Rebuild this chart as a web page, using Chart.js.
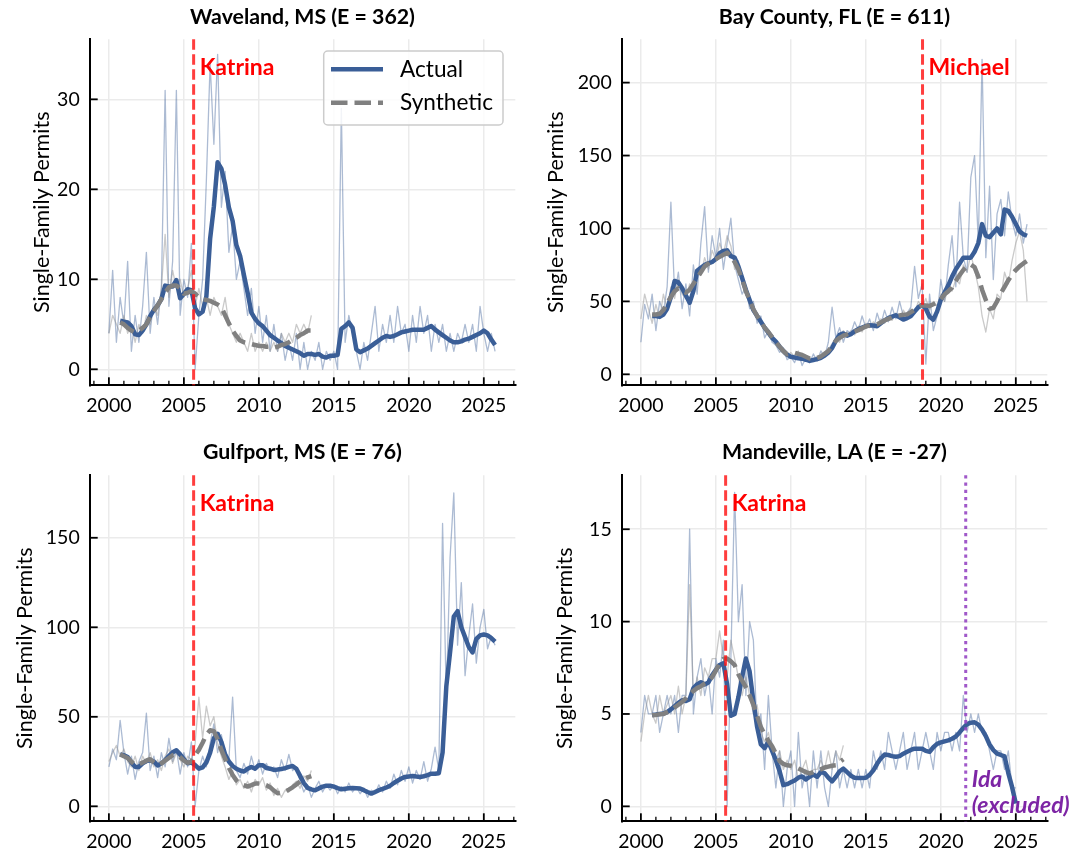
<!DOCTYPE html>
<html>
<head>
<meta charset="utf-8">
<script src="https://cdn.jsdelivr.net/npm/chart.js@4.4.1/dist/chart.umd.min.js"></script>
<style>
  html, body { margin: 0; padding: 0; background: #fff; }
  #wrap { position: relative; width: 1080px; height: 855px; }
  #wrap canvas { position: absolute; }
</style>
</head>
<body>
<div id="wrap">
  <canvas id="c0"></canvas>
  <canvas id="c1"></canvas>
  <canvas id="c2"></canvas>
  <canvas id="c3"></canvas>
</div>
<script>
// ---- data (quarterly readings) ----
const rawStart = 2000.0;      // raw series start
const smoothStart = 2000.75;  // smoothed series start
const step = 0.25;

const titles = ["Waveland, MS (E = 362)", "Bay County, FL (E = 611)", "Gulfport, MS (E = 76)", "Mandeville, LA (E = -27)"];
const eventNames = ["Katrina", "Michael", "Katrina", "Katrina"];
const eventYears = [2005.65, 2018.78, 2005.65, 2005.65];
const idaYear = 2021.66;
const xTicks = [2000, 2005, 2010, 2015, 2020, 2025];

// Waveland, MS
const wavelandRawActual = [
  4, 11, 3, 8,  5, 12, 2, 6,  3, 7, 13, 4,  8, 5, 9, 31,  7, 12, 31, 6,  10, 8, 14, 0,
  6, 10, 21, 34,  25, 35, 18, 22,  13, 16, 10, 12,  9, 6, 9, 4,  7, 3, 6, 2,  5, 2, 4, 1,
  3, 1, 4, 0,  3, 0, 2, 1,  3, 0, 2, 1,  2, 0, 29, 3,  6, 4, 2, 0,  3, 1, 4, 7,
  2, 5, 3, 6,  3, 7, 4, 5,  2, 6, 3, 7,  4, 6, 2, 5,  3, 5, 2, 4,  2, 4, 3, 5,
  3, 5, 2, 7,  4, 2, 4, 2
];
const wavelandRawSynth = [
  4, 6, 5, 4,  6, 4, 5, 3,  5, 4, 6, 5,  7, 6, 9, 15,  8, 11, 9, 10,  8, 9, 11, 7,
  9, 7, 8, 6,  8, 7, 6, 8,  5, 4, 3, 4,  3, 2, 4, 2,  3, 2, 3, 2,  3, 2, 4, 3,
  4, 3, 5, 4,  5, 4, 6
];
const wavelandActual = [
  5.4,  5.3, 5.2, 4.8, 3.9,  3.8, 4.3, 5.0, 5.9,  6.6, 7.1, 7.8, 9.3,  9.2, 9.2, 9.9, 7.9,
  8.4, 8.9, 8.8, 6.8,  6.1, 6.4, 8.1, 14.5,  18.1, 23.0, 22.3, 20.5,  18.0, 16.5, 13.8, 12.6,
  10.5, 8.5, 6.3, 5.6,  5.1, 4.8, 4.3, 3.8,  3.5, 3.2, 2.9, 2.6,  2.4, 2.2, 2.0, 1.8,
  1.5, 1.7, 1.7, 1.6,  1.7, 1.4, 1.3, 1.5,  1.5, 1.6, 4.5, 4.8,  5.2, 4.6, 2.2, 1.9,
  2.1, 2.3, 2.6, 2.9,  3.2, 3.5, 3.7, 3.6,  3.7, 3.9, 4.1, 4.2,  4.3, 4.4, 4.4, 4.4,
  4.4, 4.6, 4.8, 4.4,  4.1, 3.8, 3.5, 3.2,  3.0, 3.0, 3.1, 3.3,  3.4, 3.6, 3.8, 4.0,
  4.3, 4.0, 3.3, 2.7
];
const wavelandSynth = [
  5.2,  5.0, 4.6, 4.3, 4.1,  4.3, 4.6, 5.0, 5.8,  6.5, 7.1, 7.8, 8.5,  9.1, 9.3, 9.3, 9.0,
  8.4, 8.5, 8.7, 8.4,  8.0, 7.8, 7.7, 7.6,  7.4, 7.2, 6.9, 6.0,  5.1, 4.3, 3.7, 3.2,
  3.0, 2.9, 2.8, 2.7,  2.6, 2.6, 2.5, 2.5,  2.4, 2.5, 2.7, 2.8,  3.0, 3.3, 3.5, 3.8,
  4.0, 4.3, 4.3
];

// Bay County, FL
const bayRawActual = [
  22, 48, 38, 55,  30, 50, 42, 60,  118, 55, 70, 45,  62, 40, 75, 55,  90, 115, 70, 95,
  80, 100, 72, 90,  107, 75, 65, 55,  60, 45, 50, 35,  40, 25, 30, 22,  20, 15, 18, 10,
  12, 8, 15, 6,  11, 8, 14, 9,  16, 12, 22, 46,  25, 32, 22, 30,  28, 36, 30, 40,
  32, 38, 30, 42,  34, 44, 36, 46,  38, 50, 40, 42,  46, 74, 52, 62,  7, 55, 30, 40,
  65, 50, 75, 95,  60, 118, 80, 70,  135, 150, 90, 216,  80, 129, 65, 110,  120, 95, 125, 105,
  95, 110, 90, 103
];
const bayRawSynth = [
  38, 55, 45, 35,  48, 38, 55, 45,  60, 52, 65, 55,  52, 62, 58, 72,  68, 80, 72, 85,
  78, 90, 82, 95,  88, 72, 78, 62,  55, 48, 45, 38,  36, 30, 28, 24,  20, 17, 14, 12,
  15, 12, 16, 11,  12, 9, 11, 12,  11, 15, 17, 21,  24, 22, 30, 26,  30, 27, 33, 29,
  35, 32, 36, 33,  38, 35, 40, 37,  42, 38, 44, 40,  45, 42, 50, 46,  52, 44, 50, 47,
  55, 50, 60, 57,  65, 62, 75, 70,  82, 72, 60, 40,  29, 45, 38, 55,  52, 70, 62, 78,
  90, 98, 85, 50
];
const bayActual = [
  40,  40, 39.5, 41, 45,  53, 64, 63, 59,  54, 49, 57, 71,  73, 75, 76, 77,  79, 83, 84.5, 85,
  81, 80, 74, 66,  58, 51, 44, 40,  36, 32, 28.6, 25,  22.5, 19, 16, 13.5,  12, 11.5, 11, 10.7,
  10, 9.2, 9.8, 10.4,  11.3, 12.8, 15, 18,  23, 27, 28, 26.5,  27.5, 29.5, 31, 32,
  33, 33.6, 33.5, 33,  35, 37, 38.5, 39.5,  40.5, 39, 37.5, 38.5,  40, 43, 46, 47.5,
  45, 39.5, 37.5, 43,  51, 56, 61, 67,  72, 76, 80, 80,  80, 84, 90, 103,  95, 94, 97, 100,
  96, 113, 112, 108,  103, 98, 96, 95
];
const baySynth = [
  41,  41, 41.5, 44, 49,  53, 57, 59, 57,  56, 58, 62, 66,  70, 74, 76, 78,  79, 80.5, 82, 83.4,
  81, 77, 72, 65,  57, 51, 44.6, 40,  36, 32, 29, 25.5,  22, 19, 16, 13.7,  14, 14.8, 14, 13.3,
  12, 10.8, 10.5, 11.3,  12.2, 14, 16, 19.5,  23, 25, 26.5, 27.4,  28.3, 29.3, 30.3, 31.5,
  32.8, 33.5, 34, 34.3,  35.5, 37, 38, 39,  40, 40.4, 40.8, 41.1,  42.6, 44.3, 46, 47.3,
  47.1, 46.9, 48, 49.2,  51.5, 54.8, 57, 59.5,  64, 68, 71.5, 74.3,  75.2, 73.5, 67, 58,
  51, 45, 45.5, 50,  55.5, 60, 64.5, 68.5,  71.5, 74, 76, 77.7
];

// Gulfport, MS
const gulfportRawActual = [
  22, 32, 26, 48,  30, 18, 28, 15,  25, 30, 52, 20,  28, 16, 30, 22,  38, 25, 32, 18,
  30, 22, 36, 0,  20, 28, 22, 35,  46, 30, 40, 28,  26, 61, 20, 16,  24, 18, 28, 20,
  26, 18, 24, 20,  22, 16, 26, 20,  29, 20, 22, 14,  8, 12, 5, 10,  14, 8, 12, 9,
  12, 7, 11, 8,  13, 8, 11, 7,  10, 5, 9, 7,  12, 8, 14, 10,  18, 12, 20, 14,
  22, 13, 20, 15,  25, 14, 21, 33,  20, 158, 60, 139,  175, 90, 125, 73,  95, 113, 80, 100,
  110, 88, 95, 90
];
const gulfportRawSynth = [
  25, 30, 34, 28,  32, 25, 22, 28,  20, 28, 24, 30,  22, 26, 20, 28,  32, 24, 30, 26,
  22, 28, 26, 35,  61, 38, 56, 45,  50, 35, 28, 22,  15, 20, 12, 15,  10, 14, 8, 15,
  12, 16, 9, 13,  6, 10, 5, 9,  8, 12, 14, 10,  17, 14, 20
];
const gulfportActual = [
  29,  28.5, 27.5, 24.5, 22,  22, 24, 25.3, 25.7,  25, 22.8, 24, 25.8,  28, 30.2, 31.3, 29,
  26.3, 24, 24.5, 23,  21, 21.8, 24.5, 30,  38, 40.5, 36, 29,  25, 22.5, 21, 20,
  19.4, 21, 22, 21,  23, 23, 21.4, 21,  20.3, 20.5, 20.8, 21.3,  22, 22.5, 21, 17,
  13, 10.3, 9.5, 8.9,  10, 11, 11.5, 11.5,  11, 10.2, 9.5, 9.8,  10.1, 10.2, 10.1, 9.9,
  9, 8, 7.1, 8,  9, 9.7, 10.5, 11.5,  13, 14.3, 15.5, 16.4,  16.7, 16.9, 16.6, 16.4,
  16.8, 17.4, 18.2, 18.2,  18.5, 30, 67, 86,  106, 109, 100, 94.5,  89, 86, 93.5, 95.5,
  96, 95.5, 94, 92
];
const gulfportSynth = [
  29,  28, 27, 25, 23,  23.5, 24.4, 25.5, 26.3,  24.5, 23, 24, 25.5,  27, 28.5, 29, 27.5,
  25.5, 24.3, 25, 28.5,  31.5, 35.5, 40, 42.5,  42, 37.5, 31.5, 26.5,  21.5, 17.5, 14.5, 12.6,
  11.8, 11, 11.8, 12.7,  12.7, 12.5, 11.8, 10.7,  8.8, 7.3, 7.5, 8.1,  9.3, 10.6, 12.2, 13.9,
  15.2, 16.2, 16.9
];

// Mandeville, LA
const mandevilleRawActual = [
  4, 6, 5, 5,  6, 4, 5, 6,  5, 6, 4, 6,  6, 15, 5, 7,  8, 6, 7, 5,  8, 7, 9, 0,
  8, 17, 10, 12,  6, 10, 9, 4,  5, 2, 6, 3,  1, 3, 0, 2,  3, 0, 4, 1,  2, 0, 3, 1,
  3, 1, 0, 2,  3, 1, 2, 1,  2, 1, 2, 1,  2, 1, 3, 2,  3, 2, 4, 3,  2, 3, 4, 2,
  3, 4, 2, 3,  4, 3, 2, 4,  3, 4, 4, 3,  4, 3, 6, 4,  5, 4, 5, 4,  4, 3, 2, 3,
  3, 2, 3, 1,  1
];
const mandevilleRawSynth = [
  3.5, 5, 6, 5,  4.5, 6, 5, 5.5,  6, 5, 6.5, 5,  6, 12, 6, 7,  6, 7.5, 7, 8,  8, 9.5, 8, 7,
  9, 8, 7, 6,  7, 6, 5, 5.5,  4, 3.5, 4, 3,  2.5, 3, 2, 2.5,  2, 2.5, 1.5, 2,  2.5, 1.5, 2, 2,
  2.5, 2, 3, 2,  3, 2.5, 3.3
];
const mandevilleActual = [
  4.95,  4.97, 5.0, 5.02, 5.1,  5.25, 5.42, 5.6, 5.74,  5.7, 5.8, 6.4, 6.6,  6.72, 6.6, 6.7, 7.1,
  7.4, 7.65, 7.75, 6.6,  4.9, 5.0, 5.9, 7.0,  8.0, 7.3, 5.7, 4.3,  3.35, 3.15, 3.5, 3.0,
  2.5, 1.9, 1.15, 1.2,  1.3, 1.4, 1.55, 1.62,  1.45, 1.6, 1.72, 1.6,  1.85, 1.8, 1.55, 1.35,
  1.6, 1.9, 2.04, 1.85,  1.66, 1.55, 1.53, 1.53,  1.55, 1.7, 1.95, 2.3,  2.6, 2.8, 2.78, 2.72,
  2.68, 2.72, 2.85, 2.95,  3.05, 3.12, 3.12, 3.12,  3.0, 2.95, 3.2, 3.38,  3.46, 3.52, 3.57, 3.66,
  3.78, 4.0, 4.25, 4.45,  4.53, 4.55, 4.42, 4.15,  3.8, 3.35, 3.05, 2.85,  2.78, 2.7, 1.8, 1.05,
  0.15
];
const mandevilleSynth = [
  4.93,  4.95, 4.98, 5.0, 5.1,  5.2, 5.35, 5.5, 5.65,  5.85, 6.05, 6.25, 6.4,  6.5, 6.65, 6.75, 7.0,
  7.35, 7.75, 7.98, 8.0,  7.85, 7.65, 7.15, 6.8,  6.45, 6.0, 5.5, 4.9,  4.3, 3.9, 3.55, 3.25,
  2.85, 2.45, 2.3, 2.22,  2.2, 2.15, 2.05, 1.95,  1.85, 1.78, 1.85, 1.93,  2.0, 2.1, 2.15, 2.2,
  2.22, 2.4, 2.55
];

const seriesSets = [
  [wavelandRawActual, wavelandRawSynth, wavelandActual, wavelandSynth],
  [bayRawActual, bayRawSynth, bayActual, baySynth],
  [gulfportRawActual, gulfportRawSynth, gulfportActual, gulfportSynth],
  [mandevilleRawActual, mandevilleRawSynth, mandevilleActual, mandevilleSynth],
];
const yRanges = [[-1.78, 36.67, 10], [-7.54, 229.7, 50], [-8.38, 184.9, 50], [-0.81, 17.92, 5]];

// ---- layout / style ----
const FONT = "Lato, 'Noto Sans', sans-serif";
const BLUE = "#3a5e97";
const TICK_SIZE = 19.5, TITLE_SIZE = 21.3, YTITLE_SIZE = 21.5, LEGEND_SIZE = 22.6, NOTE_SIZE = 23;
const panels = [
  { x: 0,   y: 0,   w: 540, h: 428, area: { left: 89.7, right: 515.3, top: 39.3, bottom: 385.3 }, titleY: 17, yTitleX: 42 },
  { x: 540, y: 0,   w: 540, h: 428, area: { left: 81.7, right: 507.3, top: 39.3, bottom: 385.3 }, titleY: 17, yTitleX: 16 },
  { x: 0,   y: 428, w: 540, h: 427, area: { left: 89.7, right: 515.3, top: 47.3, bottom: 393.3 }, titleY: 24, yTitleX: 25 },
  { x: 540, y: 428, w: 540, h: 427, area: { left: 81.7, right: 507.3, top: 47.3, bottom: 393.3 }, titleY: 24, yTitleX: 25 },
];

function toPoints(values, start) {
  return values.map((v, i) => ({ x: start + i * step, y: v }));
}

function makeDecor(idx) {
  return {
    id: 'decor' + idx,
    afterDatasetsDraw(chart) {
      const { ctx, chartArea: a, scales: { x } } = chart;
      ctx.save();
      // hurricane line
      let px = x.getPixelForValue(eventYears[idx]);
      ctx.strokeStyle = "rgba(255, 20, 20, 0.82)";
      ctx.lineWidth = 3;
      ctx.setLineDash([10.5, 4.5]);
      ctx.beginPath(); ctx.moveTo(px, a.top); ctx.lineTo(px, a.bottom); ctx.stroke();
      ctx.setLineDash([]);
      ctx.fillStyle = "#ff0000";
      ctx.font = "bold " + NOTE_SIZE + "px " + FONT;
      ctx.textBaseline = "middle";
      ctx.textAlign = "left";
      ctx.fillText(eventNames[idx], px + 6, a.top + 28);

      if (idx === 3) {
        const ix = x.getPixelForValue(idaYear);
        ctx.strokeStyle = "rgba(150, 70, 195, 0.9)";
        ctx.lineWidth = 3;
        ctx.setLineDash([3.3, 3.9]);
        ctx.beginPath(); ctx.moveTo(ix, a.top); ctx.lineTo(ix, a.bottom); ctx.stroke();
        ctx.setLineDash([]);
        ctx.fillStyle = "#7d25a5";
        ctx.font = "italic bold " + NOTE_SIZE + "px " + FONT;
        ctx.fillText("Ida", ix + 6, a.bottom - 42);
        ctx.fillText("(excluded)", ix + 6, a.bottom - 16);
      }
      ctx.restore();
    },
    afterDraw(chart) {
      const { ctx, chartArea: a, scales: { x, y } } = chart;
      ctx.save();
      ctx.strokeStyle = "#000";
      // inward ticks
      for (let yr = 1999; yr <= 2027; yr++) {
        const px = x.getPixelForValue(yr);
        const major = yr % 5 === 0;
        ctx.lineWidth = major ? 1.8 : 1.3;
        ctx.beginPath(); ctx.moveTo(px, a.bottom); ctx.lineTo(px, a.bottom - (major ? 8 : 4.5)); ctx.stroke();
      }
      ctx.lineWidth = 1.8;
      y.ticks.forEach(t => {
        const py = y.getPixelForValue(t.value);
        ctx.beginPath(); ctx.moveTo(a.left, py); ctx.lineTo(a.left + 8, py); ctx.stroke();
      });

      if (idx === 0) {
        // legend box
        const bx = a.right - 191.6, by = a.top + 11.7, bw = 179.3, bh = 74;
        ctx.fillStyle = "rgba(255,255,255,0.85)";
        ctx.strokeStyle = "#cccccc";
        ctx.lineWidth = 1.5;
        ctx.beginPath(); ctx.roundRect(bx, by, bw, bh, 4); ctx.fill(); ctx.stroke();
        ctx.lineWidth = 4.5;
        ctx.strokeStyle = BLUE;
        ctx.beginPath(); ctx.moveTo(bx + 7.3, by + 18.3); ctx.lineTo(bx + 59.3, by + 18.3); ctx.stroke();
        ctx.strokeStyle = "#808080";
        ctx.setLineDash([16.5, 7]);
        ctx.beginPath(); ctx.moveTo(bx + 7.3, by + 51.7); ctx.lineTo(bx + 59.3, by + 51.7); ctx.stroke();
        ctx.setLineDash([]);
        ctx.fillStyle = "#000";
        ctx.font = LEGEND_SIZE + "px " + FONT;
        ctx.textBaseline = "middle";
        ctx.fillText("Actual", bx + 76.3, by + 18.3);
        ctx.fillText("Synthetic", bx + 76.3, by + 51.7);
      }
      ctx.restore();
    }
  };
}

Chart.defaults.font.family = FONT;
Chart.defaults.color = "#000";

panels.forEach((p, idx) => {
  const cv = document.getElementById('c' + idx);
  cv.width = p.w; cv.height = p.h;
  cv.style.left = p.x + 'px'; cv.style.top = p.y + 'px';
  cv.style.width = p.w + 'px'; cv.style.height = p.h + 'px';

  const [rawA, rawS, smA, smS] = seriesSets[idx];
  const [yMin, yMax, yStep] = yRanges[idx];
  const titleLH = TITLE_SIZE * 1.2;
  const titleTop = p.titleY - titleLH / 2;
  const yTitleLH = YTITLE_SIZE * 1.2;

  new Chart(cv, {
    type: 'line',
    data: {
      datasets: [
        { data: toPoints(smS, smoothStart), borderColor: "#808080", borderWidth: 4.5, borderDash: [16.5, 7] },
        { data: toPoints(smA, smoothStart), borderColor: BLUE, borderWidth: 4.5 },
        { data: toPoints(rawS, rawStart), borderColor: "rgba(150,150,150,0.5)", borderWidth: 1.3 },
        { data: toPoints(rawA, rawStart), borderColor: "rgba(58,94,151,0.42)", borderWidth: 1.3 },
      ]
    },
    options: {
      responsive: false,
      animation: false,
      devicePixelRatio: 1,
      elements: { point: { radius: 0 }, line: { tension: 0, borderJoinStyle: 'round', borderCapStyle: 'butt' } },
      layout: { padding: { left: 0, right: p.w - p.area.right, top: 0, bottom: 0 } },
      plugins: {
        legend: { display: false },
        tooltip: { enabled: false },
        title: {
          display: true, text: titles[idx], fullSize: false, color: "#000",
          font: { size: TITLE_SIZE, weight: 'bold' },
          padding: { top: titleTop, bottom: p.area.top - titleLH - titleTop }
        }
      },
      scales: {
        x: {
          type: 'linear', min: 1998.72, max: 2027.1,
          afterFit: s => { s.height = p.h - p.area.bottom; },
          afterBuildTicks: s => { s.ticks = xTicks.map(v => ({ value: v })); },
          ticks: { padding: 9, font: { size: TICK_SIZE }, color: "#000", callback: v => String(v) },
          grid: { color: "#ebebeb", lineWidth: 1.5, drawTicks: false },
          border: { display: true, color: "#000", width: 2 }
        },
        y: {
          min: yMin, max: yMax,
          afterFit: s => { s.width = p.area.left; },
          ticks: { stepSize: yStep, includeBounds: false, padding: 10, font: { size: TICK_SIZE }, color: "#000", callback: v => String(v) },
          grid: { color: "#ebebeb", lineWidth: 1.5, drawTicks: false },
          border: { display: true, color: "#000", width: 2 },
          title: { display: true, text: "Single-Family Permits", color: "#000", font: { size: YTITLE_SIZE }, padding: { top: p.yTitleX - yTitleLH / 2, bottom: 0 } }
        }
      }
    },
    plugins: [makeDecor(idx)]
  });
});
</script>
</body>
</html>
